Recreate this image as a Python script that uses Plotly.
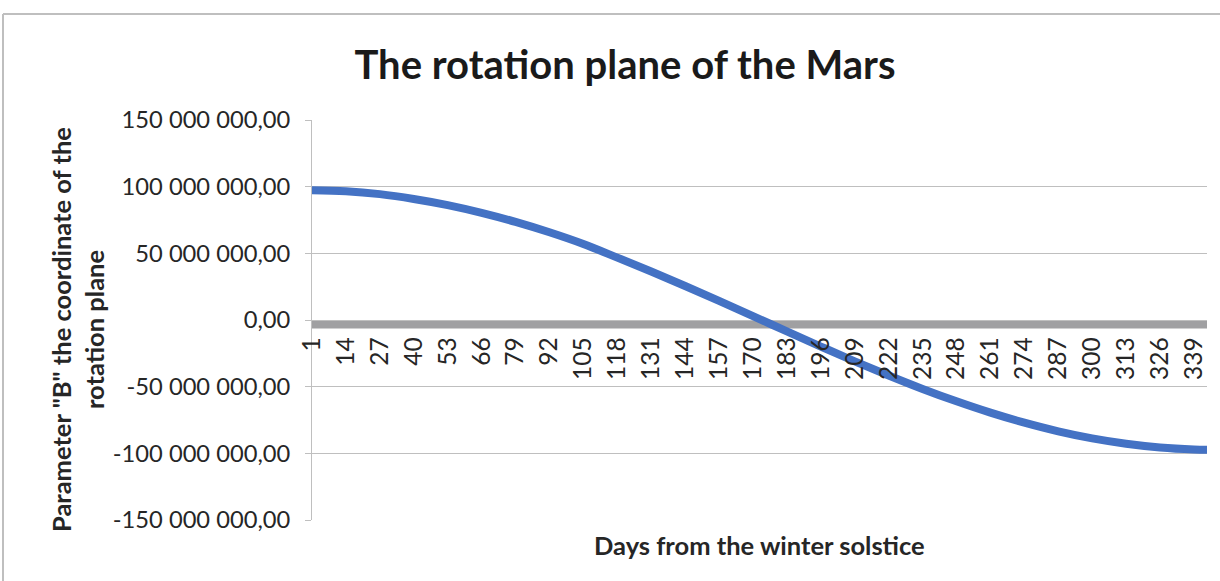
import plotly.graph_objects as go

# Days from the winter solstice (values read at the labelled days)
days = [1, 14, 27, 40, 53, 66, 79, 92, 105, 118, 131, 144, 157, 170,
        183, 196, 209, 222, 235, 248, 261, 274, 287, 300, 313, 326, 339, 344]
b_param = [97.3e6, 96.6e6, 94.4e6, 90.8e6, 86.2e6, 80.4e6, 73.6e6, 65.8e6,
           57.0e6, 46.8e6, 36.4e6, 25.5e6, 14.3e6, 2.9e6, -8.5e6, -19.9e6,
           -31.0e6, -41.6e6, -51.7e6, -61.0e6, -69.5e6, -77.0e6, -83.5e6,
           -88.8e6, -92.8e6, -95.6e6, -97.1e6, -97.3e6]

x_ticks = list(range(1, 340, 13))
y_ticks = [150e6, 100e6, 50e6, 0, -50e6, -100e6, -150e6]
y_tick_text = ["150 000 000,00", "100 000 000,00", "50 000 000,00", "0,00",
               "-50 000 000,00", "-100 000 000,00", "-150 000 000,00"]

W, H = 1220, 581
L, R, T, B = 312, 13, 120, 61

fig = go.Figure()
fig.add_trace(go.Scatter(
    x=days, y=b_param, mode="lines", line_shape="spline",
    line=dict(color="#4472C4", width=8), hoverinfo="x+y", showlegend=False))

zero_pos = (H - (T + (H - T - B) / 2)) / H  # paper y of value 0

fig.update_layout(
    width=W, height=H,
    margin=dict(l=L, r=R, t=T, b=B),
    paper_bgcolor="white", plot_bgcolor="white",
    font=dict(family="Lato", color="#262626"),
    title=dict(text="<b>The rotation plane of the Mars</b>",
               x=625 / W, xanchor="center", y=1 - 65 / H, yanchor="middle",
               font=dict(size=40, color="#1a1a1a", family="Lato")),
    xaxis=dict(range=[1, 344], tickvals=x_ticks, ticktext=[str(v) for v in x_ticks],
               tickangle=-90, anchor="free", position=zero_pos + 13 / H,
               showgrid=False, zeroline=False, showline=False,
               ticks="", tickfont=dict(size=24.5, color="#262626")),
    yaxis=dict(range=[-150e6, 150e6], tickvals=y_ticks, ticktext=y_tick_text,
               showgrid=True, gridcolor="#bfbfbf", gridwidth=1,
               zeroline=False, showline=True, linecolor="#bfbfbf", linewidth=1,
               ticks="outside", ticklen=6, tickcolor="#bfbfbf",
               ticklabelstandoff=10,
               tickfont=dict(size=23.7, color="#262626")),
)

# thick grey horizontal axis band at zero
fig.add_shape(type="rect", xref="x domain", yref="y", x0=0, x1=1,
              y0=-0.3e6, y1=-6.3e6, fillcolor="#a0a0a2", line_width=0, layer="below")

# chart border (top and left edges)
fig.add_shape(type="line", xref="paper", yref="paper",
              x0=(3 - L) / (W - L - R), x1=(W - L) / (W - L - R) + 0.01,
              y0=(H - 14 - B) / (H - T - B), y1=(H - 14 - B) / (H - T - B),
              line=dict(color="#bfbfbf", width=2))
fig.add_shape(type="line", xref="paper", yref="paper",
              x0=(3 - L) / (W - L - R), x1=(3 - L) / (W - L - R),
              y0=-0.2, y1=(H - 14 - B) / (H - T - B),
              line=dict(color="#bfbfbf", width=2))

fig.add_annotation(text="<b>Days from the winter solstice</b>", xref="paper", yref="paper",
                   x=0.5, y=(H - 545 - B) / (H - T - B), xanchor="center", yanchor="middle",
                   showarrow=False, font=dict(size=25.5, color="#262626"))
fig.add_annotation(text='<b>Parameter "B" the coordinate of the<br>rotation plane</b>',
                   xref="paper", yref="paper",
                   x=(77 - L) / (W - L - R), y=(H - 330 - B) / (H - T - B),
                   xanchor="center", yanchor="middle", textangle=-90,
                   showarrow=False, font=dict(size=25.5, color="#262626"))

fig.write_html("out.html", config={"displayModeBar": False},
               post_script="document.body.style.margin='0';")
